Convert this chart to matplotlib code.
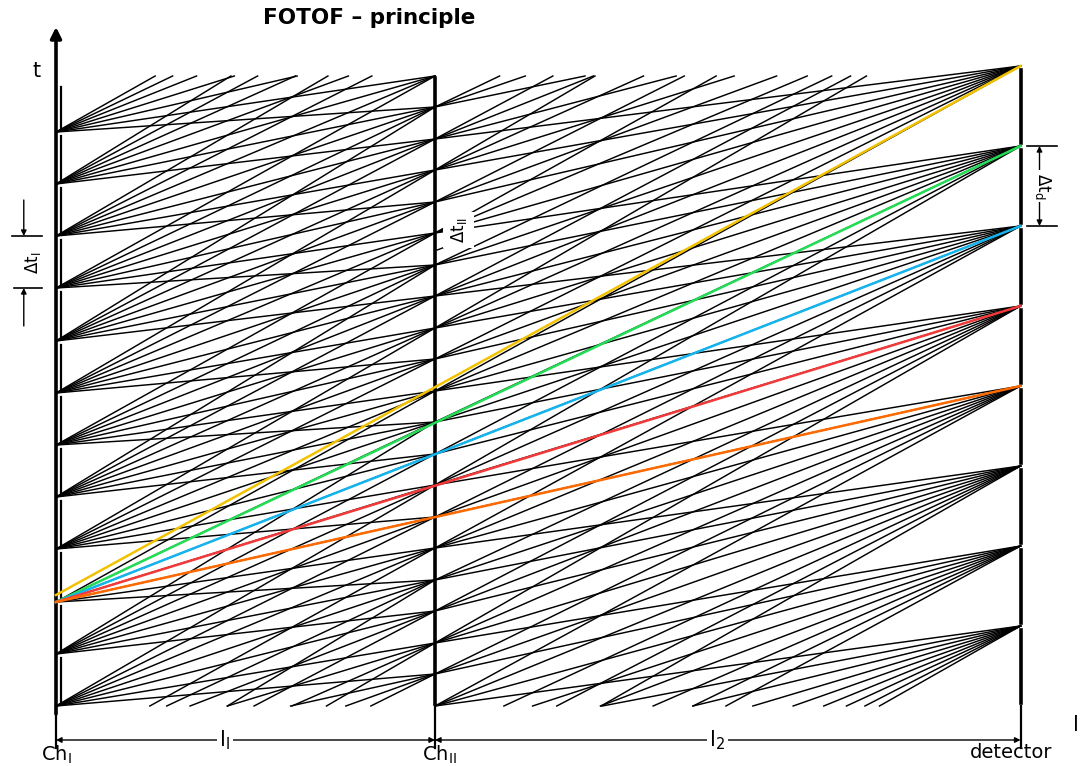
import matplotlib
matplotlib.use("Agg")
import matplotlib.pyplot as plt

# --- values (time unit = 1/10 of the axis pixels) ---
# flight path: chopper I at 0, chopper II at l1, detector at l1 + l2
l1 = 1.0
l2 = 1.545

# opening times of chopper I (incl. the ones before t=0 whose lines enter the frame)
chI_open = [-20.9, -15.7, -10.4, -5.2, 0.0, 5.2, 10.4, 15.7, 20.9, 26.1,
            31.3, 36.5, 41.8, 47.0, 52.2, 57.4]
# opening times of chopper II (incl. out-of-frame ones)
chII_open = [-31.5, -28.4, -25.2, -22.1, -18.9, -15.8, -12.6, -9.5, -6.3, -3.2,
             0.0, 3.2, 6.3, 9.5, 12.6, 15.8, 18.9, 22.1, 25.2, 28.4, 31.5,
             34.7, 37.8, 41.0, 44.1, 47.3, 50.4, 53.6, 56.7, 59.9, 63.0,
             66.2, 69.3, 72.5, 75.6, 78.8, 81.9, 85.1]
# detector time channels
det_open = [8.0, 16.0, 24.0, 32.0, 40.0, 48.0, 56.0, 64.0, 72.0, 80.0, 88.0, 96.0]

# range of flight times drawn for each part of the path
flight1 = [2.0, 24.0]   # chopper I -> chopper II
flight2 = [7.0, 34.5]   # chopper II -> detector

# coloured neutron paths: start time at chopper I, arrival at detector
path_start = [11.1, 10.4, 10.4, 10.4, 10.4]
path_end = [64.0, 56.0, 48.0, 40.0, 32.0]
path_color = ['#f2c200', '#22dd55', '#14b4ee', '#f23a3a', '#ff6a00']

t_top = 63.0      # top of the drawn region
t_chI_top = 57.4
t_chII_top = 63.0
t_det_top = 64.0

L = l1 + l2


def clip_line(xa, ta, xb, tb, top):
    # cut a segment to 0 <= t <= top
    if tb <= 0 or ta >= top:
        return None
    x0, t0, x1, t1 = xa, ta, xb, tb
    if ta < 0:
        x0 = xa + (xb - xa) * (0 - ta) / (tb - ta)
        t0 = 0.0
    if tb > top:
        x1 = xa + (xb - xa) * (top - ta) / (tb - ta)
        t1 = top
    return [x0, x1], [t0, t1]


fig = plt.figure(figsize=(10.92, 7.66), dpi=100)
ax = fig.add_axes([0, 0, 1, 1])
ax.set_xlim(-56 / 379, (1092 - 56) / 379)
ax.set_ylim(-6.0, 70.6)
ax.axis('off')

# black lines chopper I -> chopper II
for ti in chI_open:
    for tj in chII_open:
        d = tj - ti
        if flight1[0] <= d <= flight1[1]:
            seg = clip_line(0, ti, l1, tj, t_top)
            if seg:
                ax.plot(seg[0], seg[1], color='k', lw=1.05)

# black lines chopper II -> detector
for tj in chII_open:
    if tj > t_chII_top:
        continue
    for tk in det_open:
        d = tk - tj
        if flight2[0] <= d <= flight2[1]:
            top = 100 if tk <= t_det_top else t_top
            seg = clip_line(l1, tj, L, tk, top)
            if seg:
                ax.plot(seg[0], seg[1], color='k', lw=1.05)

# coloured paths
for ts, te, c in zip(path_start, path_end, path_color):
    ax.plot([0, L], [ts, te], color=c, lw=1.8, zorder=5)

# choppers and detector drawn as bars with gaps at the openings
gap = 0.35
xoff = 5 / 379
prev = 0.0
for t in [o for o in chI_open if 0 < o <= t_chI_top] + [62.3]:
    ax.plot([xoff, xoff], [prev + gap, t - gap], color='k', lw=1.6)
    prev = t
prev = 0.0
for t in [o for o in chII_open if 0 < o <= t_chII_top]:
    ax.plot([l1, l1], [prev + gap * 0.6, t - gap * 0.6], color='k', lw=2.6)
    prev = t
prev = 0.0
for t in [o for o in det_open if o <= t_det_top]:
    ax.plot([L, L], [prev + gap, t - gap], color='k', lw=2.6)
    prev = t

# axes with arrows
ax.annotate('', xy=(0, 67.9), xytext=(0, -0.8),
            arrowprops=dict(arrowstyle='-|>', lw=2.6, color='k', mutation_scale=16,
                            shrinkA=0, shrinkB=0))
ax.annotate('', xy=(2.735, 0), xytext=(-0.02, 0),
            arrowprops=dict(arrowstyle='-|>', lw=2.6, color='k', mutation_scale=16,
                            shrinkA=0, shrinkB=0))
ax.text(-0.052, 63.5, 't', fontsize=15, ha='center', va='center')
ax.text(2.69, -1.9, 'l', fontsize=15, ha='center', va='center')

# length dimensions below the axis
for x in [0, l1, L]:
    ax.plot([x, x], [0, -4.2], color='k', lw=1.6)
ax.annotate('', xy=(0, -3.4), xytext=(l1, -3.4),
            arrowprops=dict(arrowstyle='<|-|>', lw=1.0, color='k', mutation_scale=8,
                            shrinkA=0, shrinkB=0))
ax.annotate('', xy=(l1, -3.4), xytext=(L, -3.4),
            arrowprops=dict(arrowstyle='<|-|>', lw=1.0, color='k', mutation_scale=8,
                            shrinkA=0, shrinkB=0))
box = dict(facecolor='white', edgecolor='none', pad=2)
ax.text(0.445, -3.4, r'l$_{\mathregular{I}}$', fontsize=15, ha='center', va='center', bbox=box)
ax.text(1.745, -3.4, r'l$_{\mathregular{2}}$', fontsize=15, ha='center', va='center', bbox=box)
ax.text(0.0, -4.9, r'Ch$_{\mathregular{I}}$', fontsize=14, ha='center', va='center')
ax.text(1.013, -4.9, r'Ch$_{\mathregular{II}}$', fontsize=14, ha='center', va='center')
ax.text(2.52, -4.6, 'detector', fontsize=14, ha='center', va='center')

# title
ax.text(0.826, 68.8, 'FOTOF \u2013 principle', fontsize=15.5, fontweight='bold',
        ha='center', va='center')

# delta t_I marker on the left
ax.plot([-0.116, -0.037], [47.0, 47.0], color='k', lw=1.2)
ax.plot([-0.110, -0.037], [41.8, 41.8], color='k', lw=1.2)
ax.annotate('', xy=(-0.085, 47.0), xytext=(-0.085, 50.6),
            arrowprops=dict(arrowstyle='-|>', lw=1.0, color='k', mutation_scale=8,
                            shrinkA=0, shrinkB=0))
ax.annotate('', xy=(-0.085, 41.8), xytext=(-0.085, 38.0),
            arrowprops=dict(arrowstyle='-|>', lw=1.0, color='k', mutation_scale=8,
                            shrinkA=0, shrinkB=0))
ax.text(-0.062, 44.3, r'$\Delta$t$_{\mathregular{I}}$', fontsize=12, rotation=90,
        ha='center', va='center', bbox=box)

# delta t_II marker at chopper II
ax.plot([1.006, 1.04], [45.6, 46.1], color='k', lw=1.0)
ax.text(1.063, 47.6, r'$\Delta$t$_{\mathregular{II}}$', fontsize=12, rotation=90,
        ha='center', va='center', bbox=dict(facecolor='white', edgecolor='none', pad=4))

# delta t_d marker at the detector
ax.plot([L + 0.018, L + 0.096], [56.0, 56.0], color='k', lw=1.2)
ax.plot([L + 0.018, L + 0.096], [48.0, 48.0], color='k', lw=1.2)
ax.annotate('', xy=(L + 0.05, 56.0), xytext=(L + 0.05, 48.0),
            arrowprops=dict(arrowstyle='<|-|>', lw=1.0, color='k', mutation_scale=8,
                            shrinkA=0, shrinkB=0))
ax.text(L + 0.058, 52.0, r'$\Delta$t$_{\mathregular{d}}$', fontsize=12, rotation=-90,
        ha='center', va='center', bbox=box)

fig.savefig('out.png', dpi=100, facecolor='white')
